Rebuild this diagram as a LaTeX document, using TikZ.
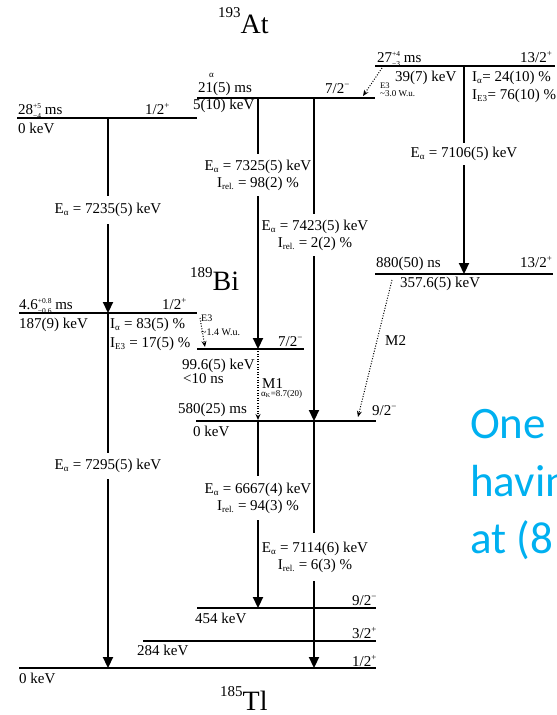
\documentclass[tikz,border=0pt]{standalone}
\usepackage{fontspec}
\setmainfont{Liberation Serif}
\newfontfamily\calib{Carlito}
\usetikzlibrary{arrows.meta}
\definecolor{accent}{RGB}{0,176,240}
\newcommand{\mysb}[1]{$_{\mbox{\fontsize{9}{9}\selectfont #1}}$}
\newcommand{\mysbs}[1]{$_{\mbox{\fontsize{6}{6}\selectfont #1}}$}
\newcommand{\mysp}[1]{$^{\mbox{\fontsize{9}{9}\selectfont #1}}$}
\newcommand{\myud}[2]{{\fontsize{7.5}{7.5}\selectfont\rlap{\raisebox{5.5pt}{#1}}\raisebox{-4.5pt}{#2}}}
\begin{document}
\begin{tikzpicture}[x=1pt,y=-1pt,
  lev/.style={line width=2.4pt},
  arr/.style={line width=2.2pt,-{Triangle[length=11pt,width=10pt]}},
  dotarr/.style={line width=1pt,dash pattern=on 1pt off 1.6pt,-{Stealth[length=6pt,width=5pt]}},
  lbl/.style={font=\fontsize{15}{17}\selectfont,inner sep=0pt},
  lw/.style={lbl,anchor=base west},
  elbl/.style={lbl,fill=white,align=center,inner xsep=1pt,inner ysep=6pt},
  small/.style={font=\fontsize{9}{10}\selectfont,inner sep=0pt,anchor=base west},
  mid/.style={font=\fontsize{10}{11}\selectfont,inner sep=0pt,anchor=base west},
  title/.style={font=\fontsize{28}{30}\selectfont,inner sep=0pt,anchor=base west},
  bluetxt/.style={font=\calib\fontsize{45}{45}\selectfont,text=accent,inner sep=0pt,anchor=base west}]
\useasboundingbox (0,0) rectangle (557,715);

% ---------- level coordinates ----------
\coordinate (A1l) at (17,118);  \coordinate (A1r) at (197,118);
\coordinate (A2l) at (197,98);  \coordinate (A2r) at (375,98);
\coordinate (A3l) at (375,66);  \coordinate (A3r) at (555,66);
\coordinate (B1l) at (19,313);  \coordinate (B1r) at (197,313);
\coordinate (B2l) at (197,349); \coordinate (B2r) at (304,349);
\coordinate (B3l) at (196,421); \coordinate (B3r) at (376,421);
\coordinate (B4l) at (375,274); \coordinate (B4r) at (553,274);
\coordinate (T1l) at (19,668);  \coordinate (T1r) at (376,668);
\coordinate (T2l) at (143,641); \coordinate (T2r) at (376,641);
\coordinate (T3l) at (197,608); \coordinate (T3r) at (376,608);

\foreach \l in {A1,A2,A3,B1,B2,B3,B4,T1,T2,T3}
  \draw[lev] (\l l) -- (\l r);

% ---------- arrow end points ----------
\coordinate (a1s) at (108,118); \coordinate (a1e) at (108,313);
\coordinate (a2s) at (258,98);  \coordinate (a2e) at (258,349);
\coordinate (a3s) at (314,98);  \coordinate (a3e) at (314,421);
\coordinate (a4s) at (464,66);  \coordinate (a4e) at (464,274);
\coordinate (a5s) at (108,313); \coordinate (a5e) at (108,668);
\coordinate (a6s) at (258,421); \coordinate (a6e) at (258,608);
\coordinate (a7s) at (314,421); \coordinate (a7e) at (314,668);

\foreach \a in {a1,a2,a3,a4,a5,a6,a7}
  \draw[arr] (\a s) -- (\a e);

% ---------- labels on alpha arrows ----------
\node[elbl,inner ysep=7pt] (l1) at (108,210) {E\mysb{α} = 7235(5) keV};
\node[elbl] (l2) at (258,175) {E\mysb{α} = 7325(5) keV\\I\mysb{rel.} = 98(2) \%};
\node[elbl] (l3) at (315,235) {E\mysb{α} = 7423(5) keV\\I\mysb{rel.} = 2(2) \%};
\node[elbl,inner ysep=4pt] (l4) at (464,154) {E\mysb{α} = 7106(5) keV};
\node[elbl] (l5) at (108,466) {E\mysb{α} = 7295(5) keV};
\node[elbl,inner ysep=7pt] (l6) at (258,498) {E\mysb{α} = 6667(4) keV\\I\mysb{rel.} = 94(3) \%};
\node[elbl,inner ysep=9pt] (l7) at (315,557) {E\mysb{α} = 7114(6) keV\\I\mysb{rel.} = 6(3) \%};

% ---------- dotted gamma transitions ----------
\coordinate (d1s) at (382,68);  \coordinate (d1e) at (363,96);
\coordinate (d2s) at (200,318); \coordinate (d2e) at (205,347);
\coordinate (d3s) at (258,351); \coordinate (d3e) at (258,420);
\coordinate (d4s) at (392,280); \coordinate (d4e) at (358,417);
\draw[dotarr] (d1s) -- (d1e);
\draw[dotarr] (d2s) -- (d2e);
\draw[dotarr,line width=1.1pt] (d3s) -- (d3e);
\draw[dotarr] (d4s) -- (d4e);

% ---------- titles ----------
\node[title] (tAt) at (218,33) {\raisebox{16pt}{\fontsize{15}{15}\selectfont 193}At};
\node[title] (tBi) at (190,290) {\raisebox{13pt}{\fontsize{15}{15}\selectfont 189}Bi};
\node[title] (tTl) at (220,710) {\raisebox{14pt}{\fontsize{15}{15}\selectfont 185}Tl};

% ---------- At labels ----------
\node[lw] (t28) at (18,114) {28\myud{+5}{−4} ms};
\node[lw] (s1) at (145,114) {1/2\mysp{+}};
\node[lw] (e0a) at (18,133) {0 keV};
\node[lw] (t21) at (198,92) {21(5) ms};
\node[small] (alph) at (209,77) {α};
\node[lw] (e5) at (193,109) {5(10) keV};
\node[lw] (s2) at (325,93) {7/2\mysp{−}};
\node[lw] (t27) at (377,62) {27\myud{+4}{−3} ms};
\node[lw] (s3) at (520,62) {13/2\mysp{+}};
\node[lw] (e39) at (395,81) {39(7) keV};
\node[lw] (ia1) at (472,81) {I\mysb{α}= 24(10) \%};
\node[lw] (ie1) at (472,99) {I\mysb{E3}= 76(10) \%};
\node[small,font=\fontsize{8.5}{9}\selectfont] (e3a) at (380,88) {E3};
\node[small] (wu1) at (380,96) {\textasciitilde3.0 W.u.};

% ---------- Bi labels ----------
\node[lw] (t46) at (19,309) {4.6\myud{+0.8}{−0.6} ms};
\node[lw] (s4) at (162,309) {1/2\mysp{+}};
\node[lw] (e187) at (19,328) {187(9) keV};
\node[lw] (ia2) at (110,328) {I\mysb{α} = 83(5) \%};
\node[lw] (ie2) at (110,347) {I\mysb{E3} = 17(5) \%};
\node[mid] (e3b) at (201,321) {E3};
\node[mid] (wu2) at (201,335) {\textasciitilde1.4 W.u.};
\node[lw] (e99) at (182,369) {99.6(5) keV};
\node[lw] (t10) at (183,383) {<10 ns};
\node[lw] (t580) at (178,413) {580(25) ms};
\node[lw] (e0b) at (193,436) {0 keV};
\node[lw] (s5) at (278,346) {7/2\mysp{−}};
\node[lw] (m1) at (262,388) {M1};
\node[small] (ak) at (261,396) {α\mysbs{K}=8.7(20)};
\node[lw] (t880) at (376,267) {880(50) ns};
\node[lw] (s6) at (520,267) {13/2\mysp{+}};
\node[lw] (e357) at (400,287) {357.6(5) keV};
\node[lw] (m2) at (385,345) {M2};
\node[lw] (s7) at (372,415) {9/2\mysp{−}};

% ---------- Tl labels ----------
\node[lw] (s8) at (352,605) {9/2\mysp{−}};
\node[lw] (e454) at (195,623) {454 keV};
\node[lw] (s9) at (352,638) {3/2\mysp{+}};
\node[lw] (e284) at (137,655) {284 keV};
\node[lw] (s10) at (352,666) {1/2\mysp{+}};
\node[lw] (e0c) at (19,683) {0 keV};

% ---------- blue side text ----------
\node[bluetxt] (b1) at (470,438) {One};
\node[bluetxt] (b2) at (470,496) {havin};
\node[bluetxt] (b3) at (470,553) {at (8};
\end{tikzpicture}
\end{document}
